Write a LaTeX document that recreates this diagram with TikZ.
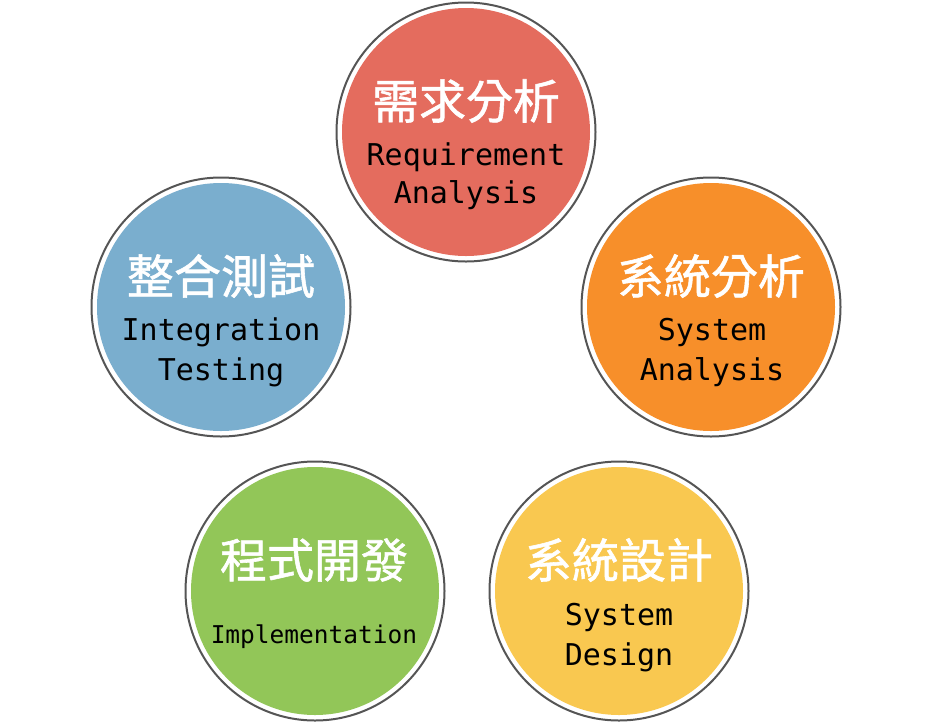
\documentclass[tikz,border=0pt]{standalone}
\usepackage{fontspec}
\newfontfamily\cjk{Noto Sans CJK TC}[FakeBold=1.2]
\newfontfamily\mono{DejaVu Sans Mono}[Scale=1.0]
\definecolor{redc}{RGB}{228,108,94}
\definecolor{orangec}{RGB}{247,143,42}
\definecolor{yellowc}{RGB}{249,200,80}
\definecolor{greenc}{RGB}{146,198,88}
\definecolor{bluec}{RGB}{122,174,206}
\definecolor{ringc}{RGB}{85,85,85}
\begin{document}
\begin{tikzpicture}[x=1pt,y=-1pt,
  ring/.style={circle,draw=ringc,line width=2pt,fill=white,minimum size=259pt,inner sep=0pt},
  disc/.style={circle,minimum size=248pt,inner sep=0pt},
  zh/.style={text=white,font=\cjk\fontsize{47}{50}\selectfont,inner sep=0pt},
  en/.style={text=black,font=\mono\fontsize{30}{32}\selectfont,inner sep=0pt},
  ensmall/.style={text=black,font=\mono\fontsize{24.5}{26}\selectfont,inner sep=0pt}]
\useasboundingbox (0,0) rectangle (935,724);
% Requirement
\node[ring] (req) at (466,132) {};
\node[disc,fill=redc] (reqd) at (req.center) {};
\node[zh] (reqzh) at (466,101) {需求分析};
\node[en] (reqen1) at (466,157) {Requirement};
\node[en] (reqen2) at (466,195) {Analysis};
% System Analysis
\node[ring] (sa) at (711,307) {};
\node[disc,fill=orangec] (sad) at (sa.center) {};
\node[zh] (sazh) at (711,276) {系統分析};
\node[en] (saen1) at (712,332) {System};
\node[en] (saen2) at (712,372) {Analysis};
% System Design
\node[ring] (sd) at (619,591) {};
\node[disc,fill=yellowc] (sdd) at (sd.center) {};
\node[zh] (sdzh) at (619,560) {系統設計};
\node[en] (sden1) at (619,617) {System};
\node[en] (sden2) at (619,657) {Design};
% Implementation
\node[ring] (im) at (315,591) {};
\node[disc,fill=greenc] (imd) at (im.center) {};
\node[zh] (imzh) at (314,560) {程式開發};
\node[ensmall] (imen) at (314,637) {Implementation};
% Integration Testing
\node[ring] (it) at (221,307) {};
\node[disc,fill=bluec] (itd) at (it.center) {};
\node[zh] (itzh) at (221,276) {整合測試};
\node[en] (iten1) at (221,332) {Integration};
\node[en] (iten2) at (221,372) {Testing};
\end{tikzpicture}
\end{document}
